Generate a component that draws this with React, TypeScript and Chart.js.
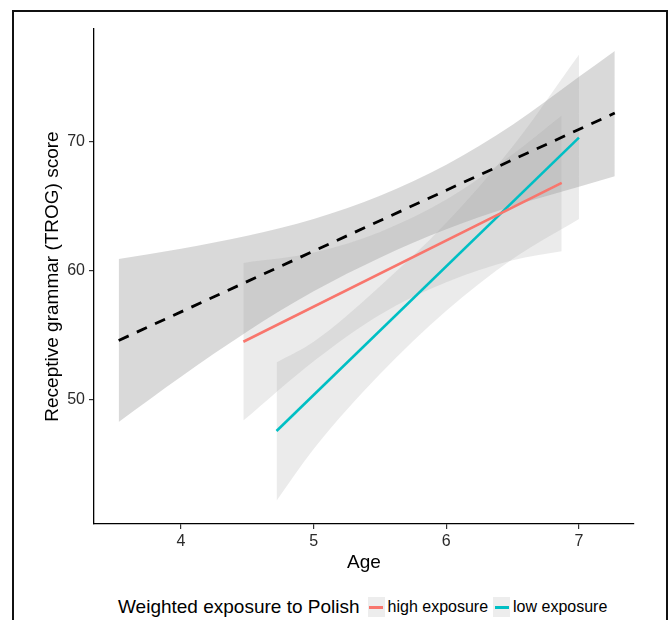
import React, { useEffect, useRef } from "react";
import { Chart, registerables } from "chart.js";

Chart.register(...registerables);

// Overall (dashed) fit and its confidence band
const overallLineX = [3.53, 7.27];
const overallLineY = [54.6, 72.2];
const overallBandX = [3.53, 4.0, 4.5, 5.0, 5.5, 6.0, 6.5, 7.0, 7.27];
const overallBandUpper = [60.9, 61.7, 62.7, 64.0, 65.8, 68.2, 71.3, 75.0, 77.0];
const overallBandLower = [48.3, 51.8, 55.3, 58.4, 61.0, 63.2, 65.0, 66.5, 67.3];

// High exposure fit
const highLineX = [4.47, 6.87];
const highLineY = [54.5, 66.8];
const highBandX = [4.47, 5.0, 5.5, 6.0, 6.5, 6.87];
const highBandUpper = [60.6, 61.4, 63.0, 65.5, 69.0, 72.0];
const highBandLower = [48.4, 53.0, 56.6, 59.1, 60.8, 61.5];

// Low exposure fit
const lowLineX = [4.72, 7.0];
const lowLineY = [47.6, 70.3];
const lowBandX = [4.72, 5.0, 5.5, 6.0, 6.5, 7.0];
const lowBandUpper = [52.9, 54.5, 58.8, 63.7, 69.6, 76.7];
const lowBandLower = [42.2, 46.2, 52.0, 56.9, 60.9, 64.0];

const xTicks = [4, 5, 6, 7];
const yTicks = [50, 60, 70];
const legendTitle = "Weighted exposure to Polish";
const seriesNames = ["high exposure", "low exposure"];
const seriesColors = ["#F8766D", "#00BFC4"];

const FONT = "'Liberation Sans', Arial, Helvetica, sans-serif";

const pts = (xs: number[], ys: number[]) => xs.map((x, i) => ({ x, y: ys[i] }));

export default function App() {
  const ref = useRef<HTMLCanvasElement | null>(null);

  useEffect(() => {
    if (!ref.current) return;
    const bandDark = "rgba(153,153,153,0.37)";
    const bandLight = "rgba(153,153,153,0.2)";
    const bandBase = {
      borderWidth: 0,
      pointRadius: 0,
      cubicInterpolationMode: "monotone" as const,
    };
    const padLeft = 37;
    const chart = new Chart(ref.current, {
      type: "line",
      data: {
        datasets: [
          {
            label: "overall",
            data: pts(overallLineX, overallLineY),
            borderColor: "#000",
            borderWidth: 2.8,
            borderDash: [11, 9],
            pointRadius: 0,
            fill: false,
            order: 0,
          },
          {
            label: seriesNames[0],
            data: pts(highLineX, highLineY),
            borderColor: seriesColors[0],
            borderWidth: 2.6,
            pointRadius: 0,
            fill: false,
            order: 1,
          },
          {
            label: seriesNames[1],
            data: pts(lowLineX, lowLineY),
            borderColor: seriesColors[1],
            borderWidth: 2.6,
            pointRadius: 0,
            fill: false,
            order: 1,
          },
          // bands
          { ...bandBase, label: "ob_u", data: pts(overallBandX, overallBandUpper), fill: 4, backgroundColor: bandDark, order: 5 },
          { ...bandBase, label: "ob_l", data: pts(overallBandX, overallBandLower), fill: false, order: 5 },
          { ...bandBase, label: "hb_u", data: pts(highBandX, highBandUpper), fill: 6, backgroundColor: bandLight, order: 4 },
          { ...bandBase, label: "hb_l", data: pts(highBandX, highBandLower), fill: false, order: 4 },
          { ...bandBase, label: "lb_u", data: pts(lowBandX, lowBandUpper), fill: 8, backgroundColor: bandLight, order: 3 },
          { ...bandBase, label: "lb_l", data: pts(lowBandX, lowBandLower), fill: false, order: 3 },
        ],
      },
      options: {
        animation: false,
        responsive: false,
        devicePixelRatio: 1,
        layout: { padding: { left: padLeft, top: 29, right: 38, bottom: 0 } },
        plugins: {
          legend: { display: false },
          tooltip: { enabled: false },
        },
        scales: {
          x: {
            type: "linear",
            min: 3.344,
            max: 7.415,
            afterFit: (s: any) => {
              s.height = 56;
            },
            afterBuildTicks: (s: any) => {
              s.ticks = xTicks.map((v) => ({ value: v }));
            },
            border: { display: true, color: "#000", width: 1.3 },
            grid: { display: true, drawOnChartArea: false, drawTicks: true, tickLength: 5, color: "#333", lineWidth: 1.2 },
            ticks: { color: "#2b2b2b", font: { family: FONT, size: 16 }, padding: 3, maxRotation: 0 },
            title: { display: true, text: "Age", color: "#000", font: { family: FONT, size: 19 }, padding: { top: 0, bottom: 6 } },
          },
          y: {
            type: "linear",
            min: 40.4,
            max: 78.7,
            afterFit: (s: any) => {
              s.width = 94 - padLeft;
            },
            afterBuildTicks: (s: any) => {
              s.ticks = yTicks.map((v) => ({ value: v }));
            },
            border: { display: true, color: "#000", width: 1.3 },
            grid: { display: true, drawOnChartArea: false, drawTicks: true, tickLength: 5, color: "#333", lineWidth: 1.2 },
            ticks: { color: "#2b2b2b", font: { family: FONT, size: 16 }, padding: 4 },
            title: { display: true, text: "Receptive grammar (TROG) score", color: "#000", font: { family: FONT, size: 19 }, padding: { top: 4, bottom: 0 } },
          },
        },
      },
    });
    return () => chart.destroy();
  }, []);

  return (
    <div style={{ position: "absolute", left: 0, top: 0, width: 672, height: 620, overflow: "hidden", background: "#fff" }}>
      <div
        style={{
          position: "absolute",
          left: 12,
          top: 10,
          width: 656,
          height: 700,
          borderTop: "2px solid #111",
          borderLeft: "2px solid #111",
          borderRight: "2px solid #111",
          boxSizing: "border-box",
        }}
      />
      <canvas ref={ref} width={672} height={580} style={{ position: "absolute", left: 0, top: 0, width: 672, height: 580 }} />
      <div
        style={{
          position: "absolute",
          left: 118,
          top: 597,
          height: 20,
          display: "flex",
          alignItems: "center",
          fontFamily: FONT,
          color: "#000",
          whiteSpace: "nowrap",
        }}
      >
        <span style={{ fontSize: 19, marginRight: 8 }}>{legendTitle}</span>
        {seriesNames.map((n, i) => (
          <React.Fragment key={n}>
            <span
              style={{
                width: 17,
                height: 20,
                background: "#ededed",
                display: "inline-flex",
                alignItems: "center",
                justifyContent: "center",
                marginRight: 3,
              }}
            >
              <span style={{ width: 14, height: 3, background: seriesColors[i], display: "block" }} />
            </span>
            <span style={{ fontSize: 16, marginRight: 5 }}>{n}</span>
          </React.Fragment>
        ))}
      </div>
    </div>
  );
}
